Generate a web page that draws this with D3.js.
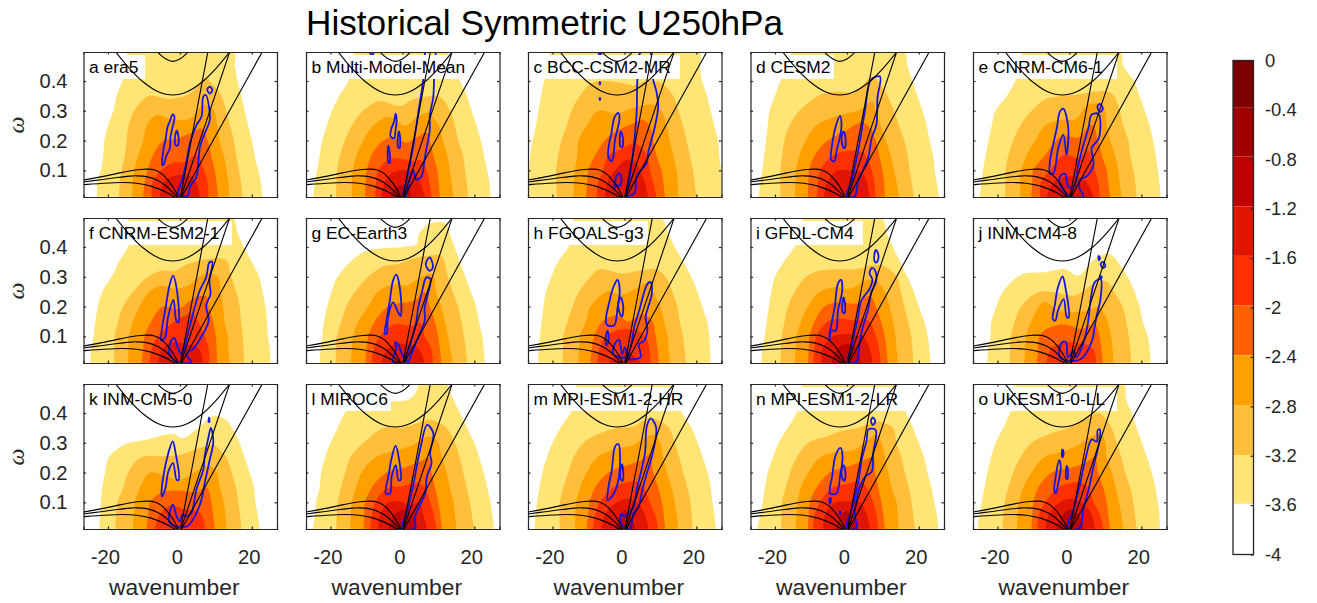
<!DOCTYPE html>
<html>
<head>
<meta charset="utf-8">
<script src="https://cdn.jsdelivr.net/npm/d3@7"></script>
<style>
  html, body { margin: 0; padding: 0; background: #fff; }
  svg { display: block; }
  text { font-family: "Liberation Sans", Arial, sans-serif; }
</style>
</head>
<body>
<script>
// frequency rows the contour edges were read at (cycles per day)
var rows = [0.011, 0.06, 0.1, 0.15, 0.2, 0.25, 0.3, 0.35, 0.4, 0.45, 0.5];

var names = ["a era5", "b Multi-Model-Mean", "c BCC-CSM2-MR", "d CESM2", "e CNRM-CM6-1",
  "f CNRM-ESM2-1", "g EC-Earth3", "h FGOALS-g3", "i GFDL-CM4", "j INM-CM4-8",
  "k INM-CM5-0", "l MIROC6", "m MPI-ESM1-2-HR", "n MPI-ESM1-2-LR", "o UKESM1-0-LL"];

var colorTicks = [0, -0.4, -0.8, -1.2, -1.6, -2, -2.4, -2.8, -3.2, -3.6, -4];
var colorEdges = [0, -0.378, -0.778, -1.182, -1.582, -1.982, -2.388, -2.79, -3.195, -3.59, -4];

// filled contours, outermost first: [left edge by row, right edge by row, top points]
var fills_a = [
  [[-23,-23,-22,-21.3,-21,-20,-18.5,-17.6,-16,-15,-14.3],[23,22.5,21.8,20.8,20,19,18,17.1,16,15.3,15],[]],
  [[-17,-16.7,-16.2,-15.3,-14.8,-14.3,-12.7],[17.4,17,16.4,15.7,15,14,12.8,11.6],[[-8.8,.35],[-3,.34],[3,.36],[7,.41],[9,.39]]],
  [[-13.3,-13.1,-12.7,-11.6,-10.2,-9.3],[13.7,13.5,13,12.2,11,10.4,9.5],[[-6.5,.285],[-2,.27],[3,.275],[6.5,.32],[8.5,.31]]],
  [[-10.2,-9.8,-9,-7.5,-4.5],[10.6,10.2,9.7,8.7,7.7],[[-1,.205],[3,.225],[6,.24]]],
  [[-7.9,-7.6,-5.2],[8,7.7,6.7,5],[[-2,.125],[2,.13],[4,.15]]],
  [[-5.7,-4.5],[5.5,4.5],[[-2,.08],[1,.085],[3,.08]]]
];
var fills_b = [
  [[-24.8,-24.3,-23.7,-23,-22.3,-21,-19.6,-17.6,-15,-14,-13],[24.5,24.2,23.6,22.7,21.8,20.6,19.3,18,16,14,12],[]],
  [[-18.5,-18.3,-18.1,-17.4,-16,-14.1,-10.9],[18.3,17.9,17.4,16.9,15.5,14.6,13.2],[[-6.3,.333],[-.7,.316],[3,.338],[8.6,.35],[10.9,.343]]],
  [[-14.1,-14,-13.8,-12.7,-10.9,-8.1],[14.1,13.7,13.2,12.5,11.3,10.2],[[-3.5,.28],[.7,.25],[3.9,.277],[7.2,.293],[9,.27]]],
  [[-10.4,-10.2,-9.9,-8.6,-5.3],[10.4,10.1,9.7,8.6,7.6],[[-2.5,.21],[1.2,.193],[3.9,.21],[6.7,.227]]],
  [[-7.6,-7.3,-6.7],[8.1,7.5,6.7],[[-3.9,.135],[-.7,.14],[3,.13],[5,.135]]],
  [[-5.8,-4.9],[6.3,4.9],[[-3,.09],[-.5,.1],[3.5,.09]]],
  [[-3.3],[2.5],[[-2.1,.04],[-.3,.05],[1.5,.04]]]
];
var fills_c = [
  [[-27.5,-27,-26.5,-26.2,-25.5,-24.6,-23.9,-23.2,-22.3,-21.1,-20.2],[27.5,27.3,26.9,26.4,26,25,24,23,21.6,21,20.8],[]],
  [[-18.8,-18.9,-19,-18.4,-17.5,-16,-14.7,-12.4],[20,19.5,19.1,18.2,17.3,16.3,15,13.6],[[-8.7,.395],[-1.3,.395],[2.5,.385],[6.2,.4],[9.9,.395]]],
  [[-14.2,-14,-13.8,-13.1,-12.8,-10.5,-7.3],[15,14.8,14.5,13.6,12.6,11.7,10.3],[[-2.2,.29],[2.5,.31],[8,.32]]],
  [[-10.7,-10.3,-10,-8.2,-5.4],[11.3,10.8,10.3,8.9,8],[[-3.1,.225],[2.5,.258],[5.2,.27],[7,.25]]],
  [[-7.7,-7.3,-5.9,-4.5],[8.9,8,7.1,6.2],[[-1.3,.17],[2.9,.19],[5.2,.17]]],
  [[-5.4,-4.8,-2.6],[6.6,5.7,4.3],[[.6,.135],[3.4,.125]]]
];
var fills_d = [
  [[-24.6,-24,-23.5,-23,-22.5,-22,-21.5,-20,-18.5,-16,-15],[25.6,25,24.4,24,23,22.2,21,19.6,18.2,16.9,15.7],[]],
  [[-18.5,-18.5,-18.5,-18,-17.4,-16,-13.2,-8],[18.7,18,17.5,16.9,16,14.5,13.1,11.3,8.5],[[-2.6,.365],[2,.36],[7,.415]]],
  [[-14.4,-14.3,-14.2,-13.2,-11.4,-8.6],[14.5,13.8,13.1,12.2,10.8,9.4,8],[[-2,.285],[3,.3],[7,.33]]],
  [[-10.9,-10.7,-10.5,-9,-5.4],[10.6,10.3,9.9,9,8],[[-.7,.23],[3.9,.26],[6.3,.245]]],
  [[-8.3,-8,-7.4,-4],[8,7.6,6.9,5.2],[[.2,.165],[4.8,.16]]],
  [[-6.3,-5.5],[6.2,5.6],[[-2.6,.1],[.2,.1],[3.9,.095]]]
];
var fills_e = [
  [[-25,-24.4,-24,-23.3,-22.5,-21.6,-20.6,-17.4,-15,-13,-13],[25.4,25,24.6,24,23.3,22.3,21,19.5,18,15,14],[]],
  [[-17.9,-17.8,-17.7,-17,-15.6,-13.7,-10.5],[18.7,18.3,17.8,16.9,16.4,15,14,12.5],[[-6.8,.338],[-2,.35],[2.5,.355],[8,.365],[10.5,.365]]],
  [[-13.7,-13.6,-13.4,-11.9,-9.5,-6.8],[14.5,14,13.6,12.7,11.3,10.4,9.9],[[-2,.27],[1.5,.27],[5.3,.32],[9,.32]]],
  [[-10.6,-10.3,-10,-6.8],[11.3,10.8,10.4,9,8],[[-2.1,.215],[2.5,.21],[6.2,.255]]],
  [[-8.1,-7.9,-5.4],[8.5,8,7.1,6],[[-1.2,.153],[2.5,.14],[5.3,.165]]],
  [[-6.3,-4.4],[6.7,4.8],[[0,.08],[2.5,.075]]]
];
var fills_f = [
  [[-25,-24.6,-24,-23.5,-22.8,-21.6,-19,-17,-14.5,-14,-14],[25.2,25,24.5,24.2,23.8,23,22,20,17.7,16,14.5],[]],
  [[-18.3,-18.2,-18.1,-17.2,-15.8,-13,-8.9],[17.8,17.7,17.5,17,16.6,15.7,14.3,13.3],[[-5.2,.32],[-1.5,.32],[2.2,.343],[7.8,.36],[12.4,.36]]],
  [[-14.4,-14.3,-14.2,-13,-11.2,-8.4],[13.8,13.5,13.3,12.4,12,11.3],[[-5.2,.27],[-1.5,.26],[2.2,.27],[6.9,.31],[10.6,.3]]],
  [[-10.6,-10.2,-9.8,-8,-4.7],[10.4,10.2,10,9.2,8],[[-.5,.192],[4,.23],[7.3,.235]]],
  [[-8.4,-7.8,-6.1],[8.2,8,6.9,5],[[-1.5,.15],[.6,.165],[3.6,.175]]],
  [[-6.1,-4.7],[6.4,5.2],[[-1.5,.08],[1.3,.075]]]
];
var fills_g = [
  [[-23,-22.7,-22.3,-21.8,-20.9,-19.7,-18,-14.5],[22.9,22.6,22.2,21.3,20.5,19,17.5,16,14.5,13],[[-10.5,.385],[-6,.395],[0,.4],[4,.41],[4.5,.44],[7,.475],[12,.48]]],
  [[-18.6,-18.4,-18.2,-17,-15.6,-13.2,-9.5],[18,17.6,17.1,16.4,15.5,14,12.7],[[-4.9,.337],[-1.2,.343],[2.5,.36],[7.1,.37],[10.8,.37]]],
  [[-14.4,-14,-13.7,-12.3,-9.5,-6.8],[14,13.3,12.7,11.8,10.8,9.4,8.8],[[-2.1,.276],[1.1,.27],[5.3,.3],[8,.31]]],
  [[-10.3,-10,-9.5,-7.7,-4],[10.8,10.4,9.9,9,7.6],[[-1.2,.21],[3.4,.22],[6.2,.25]]],
  [[-8.6,-7.9,-6.3],[8.5,8,6.2],[[-2.1,.14],[2.5,.135],[5,.145]]],
  [[-5.8,-4],[6.2,4.4],[[0,.075]]]
];
var fills_h = [
  [[-24,-23.8,-23.5,-23,-22.5,-21.8,-20.3,-18.5,-15.5,-14,-14],[24,23.8,23.6,23,21.6,20.3,18.6,16.4,14,12,10],[]],
  [[-17.2,-17.1,-17,-15.8,-14.4,-12.6,-9.4],[17.2,16.7,16.3,15.4,14.7,13.3,11.5],[[-7,.325],[-.5,.31],[4,.32],[8.7,.325]]],
  [[-12.8,-12.6,-12.4,-10.7,-9.4,-4.7],[12.7,12.3,12,11,10,8],[[-.5,.24],[3,.26],[7.3,.28]]],
  [[-9.4,-9,-8.4,-6.1],[9.6,9.2,8.7,7.8],[[-2.4,.17],[1.3,.15],[5,.175]]],
  [[-7.5,-6.9,-5.2],[7.3,6.9,5.9],[[-.5,.125],[3,.12]]],
  [[-4.3],[4.5],[[-2,.04],[0,.05],[2,.04]]]
];
var fills_i = [
  [[-23.8,-23.4,-22.9,-22.3,-21.7,-21,-20,-17.6,-14.5,-12,-12],[23.2,22.9,22.5,21.5,20,18.6,16.8,14.8,12.8,11,9.5],[]],
  [[-18.5,-18.3,-18.1,-17.3,-16.4,-14.5,-11.3],[18.5,18.2,17.9,17,16,15,13.9],[[-7.6,.32],[-2,.325],[2.6,.325],[7.2,.34],[10,.337]]],
  [[-14.5,-14.2,-14,-12.7,-10.8,-7.6],[14.2,13.8,13.5,12.8,11.9,10.5],[[-3,.265],[.7,.26],[5.4,.287],[8.1,.287]]],
  [[-10.8,-10.6,-10.4,-9,-6.2],[11.4,11,10.5,9.5,8.1],[[-2,.215],[2.6,.21],[6.3,.237]]],
  [[-9.4,-9,-8.5,-5.3],[9.5,8.9,8.1,6.3],[[-2,.16],[2.6,.153],[4.5,.16]]],
  [[-7.1,-6.7,-3.9],[7.2,6.3,4.4],[[-.2,.108],[2,.105]]],
  [[-4.4,-2.5],[4,2.6],[[0,.075]]]
];
var fills_j = [
  [[-22.8,-22.6,-21.9,-21.7,-20.3,-18.5],[22.6,22.3,21.8,20.4,19.5,18.1,16.2,13.5],[[-13.4,.307],[-7,.315],[-1.3,.326],[2.4,.304],[7,.36],[10.7,.378],[12.5,.365]]],
  [[-16.6,-16.5,-16.3,-15.2,-13.4],[17.2,16.9,16.5,15.8,14.8,12.4],[[-8.7,.248],[-4.2,.248],[1.4,.237],[6,.27],[9.8,.287],[11.6,.27]]],
  [[-12.5,-12.3,-12,-10.6],[12.3,12,11.6,10.7],[[-7,.215],[-3.2,.187],[1.4,.181],[5.2,.187],[7.9,.198],[9.5,.18]]],
  [[-9,-8.7,-8.3],[9.3,8.9,8.4],[[-6.4,.125],[-1.3,.14],[3.3,.125],[7,.14]]],
  [[-6.4,-5],[7.5,6.5],[[-1.3,.08],[3.3,.075]]]
];
var fills_k = [
  [[-22.4,-22.2,-22,-21.6,-20.8,-19.8],[22.2,21.6,21,20.6,19.4,18,16.6,14.5],[[-15.6,.293],[-9.3,.31],[-1.9,.33],[.5,.315],[4.6,.345],[9.3,.39],[13,.375]]],
  [[-18,-17.7,-17.4,-15.7,-14.4],[17.1,16.7,16.2,15.6,14.4,13],[[-11,.25],[-4.6,.255],[0,.26],[5.5,.282],[9.3,.293],[11.6,.27]]],
  [[-13,-12.8,-12.5,-11.1],[13,12.6,12.2,11.1],[[-8.3,.2],[-3.7,.187],[0,.175],[5.5,.21],[8.3,.22],[10.2,.2]]],
  [[-9.3,-8.8,-8.3],[9.7,9.2,8.8],[[-5.6,.13],[-.9,.14],[4.6,.135],[7.4,.15]]],
  [[-7,-5.6],[7.2,6],[[-2.8,.087],[1.9,.075],[5,.07]]]
];
var fills_l = [
  [[-24.9,-24.3,-24,-23,-22.6,-21.5,-20,-18,-16],[25.5,25,24.5,23.6,22.6,21.4,20,18,16,14,12],[[-13,.43],[-6,.44],[1.2,.443],[3.5,.465],[5,.5]]],
  [[-18.4,-18.2,-18,-17.1,-15.9,-14.5,-10.8,-5.3],[19.9,19.3,18.8,17.9,16.9,16,14.6,12.3],[[-.6,.35],[4,.365],[7.7,.377],[10.5,.365]]],
  [[-14.5,-14.3,-14,-12.9,-11.3,-7.6],[15,14.6,14.2,13.2,12.3,11],[[-1.6,.275],[3,.293],[7.2,.32],[9.5,.31]]],
  [[-10.8,-10.6,-10.4,-8.5,-4.4],[11,10.5,10,9.1,8.1],[[.3,.215],[4.9,.237],[7.2,.25]]],
  [[-9,-8.5,-7.6,-3.9],[9.5,8.7,7.7,6.3],[[-.6,.153],[4,.165]]],
  [[-6.7,-6.2,-3.9],[6.8,5.8,4.4],[[-.6,.102],[2.1,.09]]],
  [[-3.9,-2],[4,2.6],[[.3,.075]]]
];
var fills_m = [
  [[-25,-24.7,-24.3,-23.6,-22.8,-21.6,-20,-17.8,-15,-13.5,-13],[25.5,25,24.5,24,23.2,21.8,20.4,18.7,16,14.5,13],[]],
  [[-18,-18,-17.9,-17,-15.6,-14.2,-11.4],[19,18.7,18.4,17.5,16.4,15.3,14,12.5],[[-6.8,.332],[-2.1,.35],[2.5,.355],[7.1,.383],[10.8,.366]]],
  [[-13.7,-13.6,-13.4,-12.3,-10.5,-7.7],[15,14.5,14,13.1,11.8,10.8],[[-2.1,.28],[2.5,.293],[5.3,.315],[8,.327],[9.9,.3]]],
  [[-10.5,-10.1,-9.7,-8.1,-4.4],[11.3,10.9,10.4,9.4,8],[[-.3,.22],[4.4,.24],[7.1,.26]]],
  [[-8.8,-8.1,-6.8,-3],[9.4,8.5,7.1,5.3],[[0,.165],[3.4,.17]]],
  [[-6.3,-5.4,-2.1],[6.7,5.7,3.4],[[.6,.113]]],
  [[-2.6,-1],[3,1.4],[[.2,.075]]]
];
var fills_n = [
  [[-25,-24,-23.4,-22.8,-22,-20.6,-19,-16.5,-14,-13,-12],[25.4,25,24.3,23.5,22.4,21.5,20,18.4,16.5,14,13],[]],
  [[-18.3,-18.2,-18.1,-17,-15.8,-14,-10.7],[18.9,18.4,18,17.2,16.1,15.2,13.8,12.9],[[-6.1,.32],[-1.5,.34],[3.1,.35],[7.8,.37],[10.6,.365]]],
  [[-14.3,-14,-13.7,-12.8,-10.7,-7.5],[14.4,14.1,13.8,12.4,11.5,10.6],[[-2.4,.27],[2,.276],[5.9,.31],[8.2,.327],[9.6,.3]]],
  [[-10.9,-10.6,-10.3,-8.4,-4.7],[10.6,10.1,9.6,8.7,7.8],[[.4,.22],[4,.237],[7.3,.25]]],
  [[-9.4,-8.9,-7.5,-4],[8.7,8.2,7.3,5.5],[[-.5,.16],[3.6,.17]]],
  [[-6.6,-6.1,-3.3],[6.4,5.5,3.6],[[0,.103]]],
  [[-3.1,-1.5],[3.1,1.6],[[0,.07]]]
];
var fills_o = [
  [[-25.5,-25,-24.4,-23.6,-22.8,-21.8,-20.5,-18.4,-16.5,-15,-15],[25.2,25,24.6,23.9,22.9,21.6,20.2,18.7,17.3,15.7,15],[]],
  [[-18.6,-18.3,-18,-17,-15.6,-13.7,-10.5],[18.7,18.2,17.8,16.9,15.5,14.5,13.1,11.8],[[-4.9,.332],[-.3,.35],[4.4,.377],[8,.4],[9.9,.383]]],
  [[-14.6,-14.3,-14,-12.8,-10.5,-7.2],[15,14.4,13.8,12.9,11.8,10.4],[[-2.1,.27],[1.6,.287],[5.3,.315],[8.5,.332],[9.9,.305]]],
  [[-10.6,-10.3,-10,-8.6,-4.9],[11.3,10.8,10.4,9.4,8],[[.2,.215],[4.4,.232],[7.1,.25]]],
  [[-9,-8.4,-6.8,-3],[9.4,8.5,6.7,5.3],[[.2,.165],[3.4,.165]]],
  [[-6.8,-5.7,-2.6],[7.1,6.2,3.4],[[.5,.113]]],
  [[-3.5,-1.7],[3.9,2.5],[[.2,.075]]]
];

// blue contours, each a closed loop of [wavenumber, frequency]
var blue_a = [
  [[-4.9,.118],[-4.6,.168],[-4,.202],[-3.4,.247],[-2.8,.264],[-2,.288],[-1.5,.28],[-1.9,.252],[-2.6,.213],[-2.8,.173],[-3.7,.151],[-4.6,.118]],
  [[-1.4,.207],[-.9,.233],[-.4,.213],[-.5,.185],[-1.1,.183]],
  [[-.6,.023],[0,.045],[.9,.079],[1.9,.135],[2.8,.191],[4.6,.252],[6,.28],[6.5,.347],[7.2,.353],[8.1,.313],[8.3,.269],[6.9,.224],[5.6,.18],[5.1,.124],[4.6,.079],[2.8,.045],[2.3,.017],[.9,.012]],
  [[7.6,.372],[8.3,.381],[9,.37],[8.3,.358]]
];
var blue_b = [
  [[-3.3,.214],[-3,.242],[-2.3,.264],[-1.9,.29],[-1.6,.27],[-1.9,.236],[-2.3,.208]],
  [[-1.3,.203],[-1,.231],[-.6,.203],[-.8,.175],[-1.2,.178]],
  [[-4.1,.153],[-3.9,.183],[-3.5,.153],[-3.5,.125],[-3.9,.127]],
  [[.2,.013],[1.2,.069],[3,.18],[4.4,.292],[5.8,.404],[6.6,.5],[9,.5],[8.8,.404],[8.6,.348],[7.6,.281],[7.6,.236],[6.3,.147],[5.3,.08],[3.9,.069],[3,.1],[1.6,.046],[1,.015]],
  [[-9,.495],[-8.5,.487],[-8,.495]]
];
var blue_c = [
  [[-4.5,.147],[-4.2,.192],[-3.6,.225],[-2.8,.276],[-1.7,.293],[-1.4,.27],[-2.6,.203],[-3.1,.147],[-3.6,.13]],
  [[-1.3,.203],[-1,.231],[-.4,.208],[-.6,.178],[-1.1,.18]],
  [[-2.8,.035],[-2.2,.08],[-1.4,.09],[-.8,.069],[-1.3,.046],[-2.2,.052]],
  [[.6,.012],[1.5,.08],[2.4,.158],[3.4,.292],[3.6,.404],[4.3,.493],[7,.5],[8,.404],[8.9,.365],[9.4,.315],[8.5,.248],[6.6,.158],[6.2,.125],[3.4,.08],[2.9,.025],[1.1,.013]],
  [[-6.9,.396],[-6.7,.396],[-6.8,.388]],
  [[-6.9,.343],[-6.7,.343],[-6.8,.336]],
  [[-7.2,.495],[-6.8,.487],[-6.4,.495]]
];
var blue_d = [
  [[-4.4,.136],[-4.1,.186],[-3.1,.248],[-1.9,.283],[-1.5,.253],[-1.8,.22],[-2.9,.164],[-3.5,.13]],
  [[-1.5,.209],[-1,.231],[-.4,.209],[-.6,.175],[-1,.177]],
  [[-.1,.013],[1.3,.063],[3.1,.164],[5,.298],[6.7,.404],[9.2,.415],[8.5,.343],[8.2,.253],[6.9,.209],[5.9,.141],[3.1,.063],[2.2,.013]]
];
var blue_e = [
  [[-5.4,.088],[-5.4,.13],[-3.5,.242],[-2.6,.298],[-1.7,.307],[-.3,.242],[-.8,.153],[-1.7,.22],[-3.1,.175],[-4.4,.091]],
  [[.2,.013],[-2.6,.052],[-2.6,.08],[-1.2,.088],[-.3,.046],[1.1,.041],[2.5,.119],[3.9,.186],[5.3,.242],[6.2,.287],[8.1,.289],[8.2,.208],[6.2,.175],[6.7,.119],[4.8,.08],[3,.069],[2.8,.041],[3.9,.013]],
  [[7.8,.315],[8.5,.323],[9.3,.307],[8.5,.296]]
];
var blue_f = [
  [[-5.2,.085],[-3.8,.208],[-2.9,.27],[-1.9,.304],[-.8,.253],[-.4,.147],[-1,.153],[-1.8,.222],[-3.3,.164],[-4.1,.097]],
  [[-.6,.013],[-2.9,.041],[-2.4,.085],[-1.5,.094],[-.6,.063],[.4,.041],[1.3,.063],[2.2,.108],[4.1,.197],[5.5,.253],[7.3,.298],[8.2,.348],[9,.35],[8.2,.287],[8.5,.242],[7.3,.203],[8,.153],[5.9,.097],[3.6,.057],[1.8,.041],[3.1,.013]]
];
var blue_g = [
  [[-4.9,.108],[-4.4,.153],[-3.5,.22],[-2.6,.287],[-1.7,.307],[-.5,.242],[-.5,.169],[-1.4,.186],[-2.6,.214],[-4,.164],[-4.4,.108]],
  [[-2.6,.013],[-1.7,.063],[-2.1,.08],[-1.2,.074],[-.3,.046],[.6,.013]],
  [[1.1,.02],[2.5,.085],[3.9,.153],[4.4,.197],[5.3,.242],[6.7,.298],[7.8,.292],[7.1,.242],[6.2,.197],[6.2,.153],[4.8,.108],[2.5,.041],[1.6,.013]],
  [[6.5,.343],[7.6,.365],[8.5,.332],[7.6,.32]]
];
var blue_h = [
  [[-5,.141],[-4.1,.22],[-3.1,.264],[-1.9,.29],[-1.3,.253],[-1.9,.197],[-2.9,.136]],
  [[-1.7,.209],[-1,.231],[-.3,.197],[-.7,.166],[-1.5,.186]],
  [[-5.2,.097],[-4.7,.119],[-4.4,.085],[-5,.069]],
  [[-3.1,.041],[-2.4,.08],[-1.5,.088],[-.6,.041],[.1,.063],[.6,.03]],
  [[1.3,.024],[2.2,.09],[2.7,.13],[4.1,.186],[6.4,.276],[7.3,.282],[7.6,.242],[5.9,.164],[6.4,.125],[5.5,.085],[4.1,.074],[4.5,.03],[3.1,.024]]
];
var blue_i = [
  [[-4.8,.085],[-4.6,.119],[-3.4,.197],[-2.5,.276],[-1.6,.29],[-1.3,.253],[-2.5,.186],[-3.1,.119],[-4.6,.119]],
  [[-1.3,.203],[-.9,.231],[-.5,.203],[-.6,.178],[-1.1,.18]],
  [[.3,.013],[1.2,.063],[3.1,.164],[4,.22],[6.3,.259],[7.1,.29],[6.3,.312],[7,.33],[7.9,.32],[8.1,.283],[6.8,.248],[5.8,.186],[4.4,.13],[3.5,.074],[2.6,.013]],
  [[7.6,.37],[8.1,.39],[8.8,.37],[8.3,.348],[7.8,.35]]
];
var blue_j = [
  [[-4.6,.158],[-4,.208],[-3.2,.264],[-1.9,.301],[-1.1,.264],[-.2,.164],[-.7,.164],[-1.6,.225],[-3.2,.186],[-3.9,.153]],
  [[-2.7,.03],[-2,.08],[-.9,.08],[-.4,.03],[1.2,.052],[1.9,.03],[3.8,.074],[5.1,.141],[6,.231],[7,.281],[8.7,.292],[8.7,.231],[7.5,.164],[7,.13],[6.3,.085],[3.8,.03],[1.9,.018]],
  [[8.1,.37],[8.5,.362],[8.2,.355]],
  [[8.7,.343],[9.3,.35],[10,.337],[9.3,.329]],
  [[8.7,.302],[9,.3],[8.8,.294]]
];
var blue_k = [
  [[-5.1,.126],[-4.6,.187],[-3.2,.266],[-2,.305],[-1.2,.266],[-.3,.176],[-.9,.176],[-1.9,.232],[-3.2,.204],[-4,.148],[-4.9,.12]],
  [[-2.8,.03],[-2.3,.087],[-1.9,.092],[-.9,.053],[0,.036],[.7,.059],[1.9,.053],[3.2,.064],[4.6,.143],[6.5,.21],[6.9,.254],[7.9,.316],[8.6,.35],[9.3,.305],[8.3,.243],[6.9,.165],[6,.109],[4.6,.064],[1.9,.019]],
  [[8,.37],[8.2,.37],[8.1,.385]]
];
var blue_l = [
  [[-4.6,.13],[-3.9,.186],[-3,.248],[-1.9,.29],[-.9,.242],[-.5,.175],[-1.1,.175],[-1.8,.225],[-3,.186],[-3.4,.13]],
  [[-.2,.013],[1.2,.063],[3.1,.164],[4.9,.276],[6.9,.36],[8.6,.332],[7.7,.264],[8.1,.231],[6.8,.186],[6.3,.13],[3.5,.052],[3.5,.013]]
];
var blue_m = [
  [[-4.7,.108],[-4.4,.153],[-3.5,.208],[-2.6,.287],[-1.7,.296],[-1.2,.242],[-2.1,.153],[-3.5,.119]],
  [[-1.2,.197],[-.7,.228],[-.3,.197],[-.5,.172],[-1,.177]],
  [[.2,.013],[-1.2,.041],[-1,.06],[.2,.052],[1.1,.063],[2.5,.085],[3.4,.141],[5.7,.264],[6.2,.353],[7.3,.382],[8.8,.353],[8.1,.276],[5.7,.175],[4.8,.13],[3.9,.085],[2.5,.063],[1.6,.013]]
];
var blue_n = [
  [[-4.7,.13],[-4.1,.186],[-3.1,.259],[-1.8,.283],[-1.2,.253],[-1.8,.197],[-2.9,.13]],
  [[-4.9,.113],[-4.7,.094],[-4.4,.113]],
  [[-2,.069],[-1.8,.069],[-1.9,.06]],
  [[-1.5,.203],[-.9,.225],[-.4,.197],[-.7,.172],[-1.3,.181]],
  [[-.1,.013],[1.3,.074],[3.1,.164],[4.1,.242],[5.5,.309],[6,.345],[8,.343],[7.3,.264],[6.9,.203],[5,.186],[3.6,.153],[2.2,.063],[2.7,.013]],
  [[6.7,.374],[7.2,.385],[7.9,.371],[7.2,.36]]
];
var blue_o = [
  [[-4.2,.141],[-3.8,.186],[-2.9,.242],[-2.4,.22],[-3.1,.164],[-3.8,.13]],
  [[-1,.197],[-.7,.222],[-.4,.197],[-.6,.178],[-.9,.18]],
  [[-2.1,.267],[-1.9,.278],[-1.6,.265],[-1.9,.251]],
  [[-.5,.013],[1.1,.074],[3,.164],[4.4,.242],[6.2,.311],[7.6,.304],[7.9,.343],[8.5,.345],[8.3,.304],[6.7,.22],[5.3,.141],[3.9,.08],[2.8,.013]]
];

// black dispersion curves, the same in every panel
var kelvin1 = [[0,0],[7.8,.5]];
var kelvin2 = [[0,0],[13.9,.5]];
var kelvin3 = [[0,0],[23,.5]];
var ig1 = [[-18,.5],[-14,.442],[-10,.395],[-6,.364],[-2,.353],[2,.364],[6,.395],[10,.442],[14,.5]];
var ig2 = [[-6.5,.5],[-4,.475],[-2,.466],[0,.474],[2.5,.5]];
var er1 = [[-28,.065],[-27,.067],[-22,.078],[-18,.088],[-14,.098],[-11,.103],[-9,.104],[-7,.101],[-5,.088],[-3,.062],[-1.5,.035],[0,0]];
var er2 = [[-28,.059],[-27,.0605],[-22,.0685],[-18,.075],[-14,.0805],[-12,.0815],[-9,.078],[-6,.065],[-4,.049],[-2,.026],[0,0]];
var er3 = [[-28,.051],[-27,.0518],[-22,.056],[-16,.059],[-12,.0566],[-8,.047],[-5,.0335],[-3,.0214],[-1.5,.011],[0,0]];

var allFills = [fills_a, fills_b, fills_c, fills_d, fills_e, fills_f, fills_g, fills_h, fills_i, fills_j, fills_k, fills_l, fills_m, fills_n, fills_o];
var allBlue = [blue_a, blue_b, blue_c, blue_d, blue_e, blue_f, blue_g, blue_h, blue_i, blue_j, blue_k, blue_l, blue_m, blue_n, blue_o];

// layout and styles
var bandColors = ["#7d0000", "#a00000", "#bf0000", "#e01500", "#ff3000", "#ff6000", "#ff9f00", "#ffbf3a", "#ffe575", "#ffffff"];
var fillColors = ["#ffe575", "#ffbf3a", "#ff9f00", "#ff6000", "#ff3000", "#e01500", "#bf0000"];
var boxRight = [61.5, 161, 152, 83.5, 144, 148.5, 107, 120, 112.5, 109, 115, 85, 160, 154.5, 144];
var colLeft = [83.5, 306, 528, 750.5, 973];
var rowTop = [52, 218, 384];
var panelW = 193.5, panelH = 145;
var ink = "#262626";

var svg = d3.select("body").append("svg")
    .attr("width", 1317)
    .attr("height", 603);

var x = d3.scaleLinear().domain([-26.8, 27]).range([0, panelW]);
var y = d3.scaleLinear().domain([0.0104, 0.4975]).range([panelH, 0]);

function makeLine(curve) {
  return d3.line()
      .x(function(d) { return x(d[0]); })
      .y(function(d) { return y(d[1]); })
      .curve(curve);
}
var openLine = makeLine(d3.curveCatmullRom.alpha(0.5));
var loopLine = makeLine(d3.curveCatmullRomClosed.alpha(0.5));
var straightLine = makeLine(d3.curveLinear);

function outline(c) {
  var pts = [];
  c[0].forEach(function(k, i) { pts.push([k, rows[i]]); });
  c[2].forEach(function(p) { pts.push(p); });
  for (var i = c[1].length - 1; i >= 0; i--) pts.push([c[1][i], rows[i]]);
  return pts;
}

svg.append("defs").append("clipPath").attr("id", "panelClip")
  .append("rect").attr("width", panelW).attr("height", panelH);

names.forEach(function(name, p) {
  var col = p % 5, row = Math.floor(p / 5);
  var g = svg.append("g")
      .attr("transform", "translate(" + colLeft[col] + "," + rowTop[row] + ")");
  var inner = g.append("g").attr("clip-path", "url(#panelClip)");

  inner.selectAll("path.fill").data(allFills[p]).enter()
    .append("path")
      .attr("class", "fill")
      .attr("fill", function(d, i) { return fillColors[i]; })
      .attr("d", function(d) { return openLine(outline(d)) + "Z"; });

  inner.selectAll("path.blue").data(allBlue[p]).enter()
    .append("path")
      .attr("class", "blue")
      .attr("fill", "none")
      .attr("stroke", "#1414e6")
      .attr("stroke-width", 1.8)
      .attr("d", function(d) { return loopLine(d); });

  g.append("rect")
      .attr("x", 1.5)
      .attr("y", 3)
      .attr("width", boxRight[p] - 1.5)
      .attr("height", 24)
      .attr("fill", "#fff");

  // black curves sit above the label box
  g.append("g").attr("clip-path", "url(#panelClip)")
    .selectAll("path.disp").data([kelvin1, kelvin2, kelvin3, ig1, ig2, er1, er2, er3]).enter()
    .append("path")
      .attr("class", "disp")
      .attr("fill", "none")
      .attr("stroke", "#000")
      .attr("stroke-width", 1.1)
      .attr("d", function(d) { return d.length > 2 ? openLine(d) : straightLine(d); });

  g.append("text")
      .attr("x", 5.5)
      .attr("y", 20.7)
      .attr("fill", "#000")
      .style("font-size", "17.4px")
      .text(name);

  var bottom = g.append("g").attr("transform", "translate(0," + panelH + ")")
      .call(d3.axisBottom(x).tickValues([-20, 0, 20]).tickSize(-2.5).tickPadding(21)
        .tickFormat(function(d) { return row == 2 ? d : ""; }));
  bottom.selectAll("text").attr("dx", -3);
  var left = g.append("g")
      .call(d3.axisLeft(y).tickValues([0.1, 0.2, 0.3, 0.4]).tickSize(-2.5).tickPadding(16)
        .tickFormat(function(d) { return col == 0 ? d3.format(".1f")(d) : ""; }));
  var top = g.append("g")
      .call(d3.axisTop(x).tickValues([-20, 0, 20]).tickSize(-2.5).tickFormat(""));
  var right = g.append("g").attr("transform", "translate(" + panelW + ",0)")
      .call(d3.axisRight(y).tickValues([0.1, 0.2, 0.3, 0.4]).tickSize(-2.5).tickFormat(""));

  [bottom, left, top, right].forEach(function(a) {
    a.selectAll("path, line").attr("stroke", ink).attr("stroke-width", 1.2);
    a.selectAll("text").attr("fill", ink).style("font-size", "20.2px")
      .style("font-family", "'Liberation Sans', Arial, sans-serif");
  });

  if (row == 2) {
    g.append("text")
        .attr("x", panelW / 2 - 6)
        .attr("y", panelH + 66)
        .attr("text-anchor", "middle")
        .attr("fill", ink)
        .style("font-size", "22.8px")
        .text("wavenumber");
  }
  if (col == 0) {
    g.append("text")
        .attr("transform", "translate(-60," + (panelH / 2 + 0.5) + ") rotate(-90)")
        .attr("text-anchor", "middle")
        .attr("fill", ink)
        .style("font-size", "24px")
        .style("font-family", "'Liberation Serif', serif")
        .style("font-style", "italic")
        .text("\u03c9");
  }
});

svg.append("text")
    .attr("x", 306)
    .attr("y", 35)
    .attr("fill", "#000")
    .style("font-size", "35.2px")
    .text("Historical Symmetric U250hPa");

// colour bar
var cb = d3.scaleLinear().domain([-4, 0]).range([554.5, 60.5]);

svg.selectAll("rect.band").data(bandColors).enter()
  .append("rect")
    .attr("class", "band")
    .attr("x", 1233)
    .attr("width", 20.5)
    .attr("y", function(d, i) { return cb(colorEdges[i]); })
    .attr("height", function(d, i) { return cb(colorEdges[i + 1]) - cb(colorEdges[i]); })
    .attr("fill", function(d) { return d; });

svg.append("rect")
    .attr("x", 1233)
    .attr("y", cb(0))
    .attr("width", 20.5)
    .attr("height", cb(-4) - cb(0))
    .attr("fill", "none")
    .attr("stroke", ink)
    .attr("stroke-width", 1.3);

var cbAxis = svg.append("g")
    .attr("transform", "translate(1253.5,0)")
    .call(d3.axisRight(cb).tickValues(colorTicks).tickSize(-3).tickPadding(11.5)
      .tickFormat(function(d) { return d; }));
cbAxis.select("path").remove();
cbAxis.selectAll("line").attr("stroke", ink).attr("stroke-width", 1.2);
cbAxis.selectAll("text").attr("fill", ink).style("font-size", "18.4px")
    .style("font-family", "'Liberation Sans', Arial, sans-serif");
</script>
</body>
</html>
